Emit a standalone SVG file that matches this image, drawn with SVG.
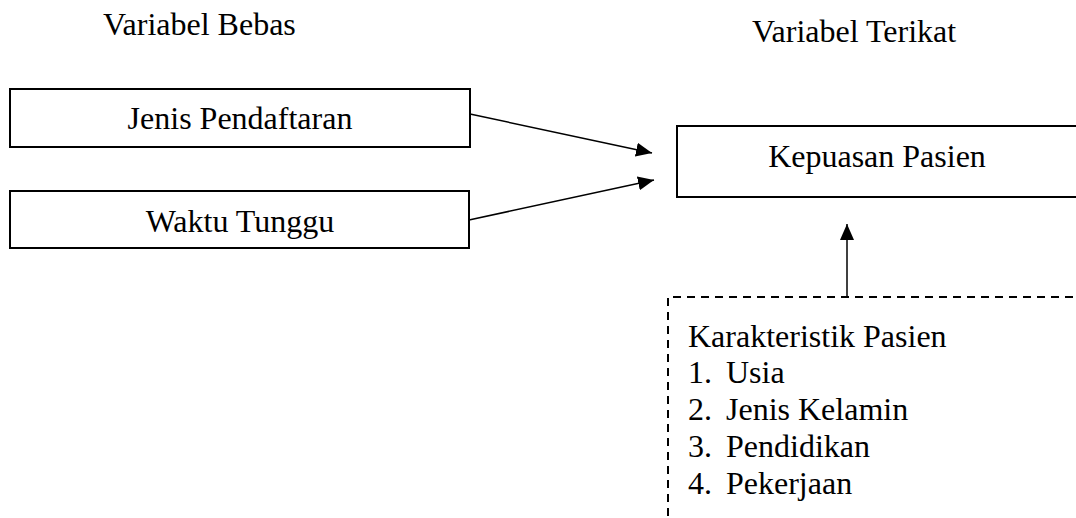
<svg xmlns="http://www.w3.org/2000/svg" width="1076" height="518" viewBox="0 0 1076 518">
<defs>
<style>
text{font-family:"Liberation Serif","Times New Roman",serif;font-size:32px;fill:#000}
.box{fill:#fff;stroke:#000;stroke-width:2}
.dash{fill:none;stroke:#000;stroke-width:2;stroke-dasharray:8 6}
.conn{stroke:#000;stroke-width:1.5;fill:none}
</style>
<marker id="ah" viewBox="0 0 16 14" refX="16" refY="7" markerWidth="16" markerHeight="14" markerUnits="userSpaceOnUse" orient="auto">
<path d="M0,0 L16,7 L0,14 Z" fill="#000"/>
</marker>
</defs>
<rect width="1076" height="518" fill="#fff"/>
<g id="label-bebas"><text x="103" y="35">Variabel Bebas</text></g>
<g id="label-terikat"><text x="752" y="42">Variabel Terikat</text></g>
<g id="node-jenis">
<rect class="box" x="10" y="89" width="460" height="58"/>
<text x="240" y="129" text-anchor="middle">Jenis Pendaftaran</text>
</g>
<g id="node-waktu">
<rect class="box" x="10" y="191" width="459" height="57"/>
<text x="240" y="232" text-anchor="middle">Waktu Tunggu</text>
</g>
<g id="node-kepuasan">
<rect class="box" x="677" y="126" width="402" height="71"/>
<text x="877" y="167" text-anchor="middle">Kepuasan Pasien</text>
</g>
<g id="node-karakteristik">
<path class="dash" d="M668,530 L668,297 L1080,297"/>
<text x="688" y="347">Karakteristik Pasien</text>
<text x="688" y="383">1.</text><text x="726" y="383">Usia</text>
<text x="688" y="420">2.</text><text x="726" y="420">Jenis Kelamin</text>
<text x="688" y="457">3.</text><text x="726" y="457">Pendidikan</text>
<text x="688" y="494">4.</text><text x="726" y="494">Pekerjaan</text>
</g>
<g id="connectors">
<path class="conn" d="M470,114 L652,153" marker-end="url(#ah)"/>
<path class="conn" d="M469,220 L654,180" marker-end="url(#ah)"/>
<path class="conn" d="M847,297 L847,224" marker-end="url(#ah)"/>
</g>
</svg>
